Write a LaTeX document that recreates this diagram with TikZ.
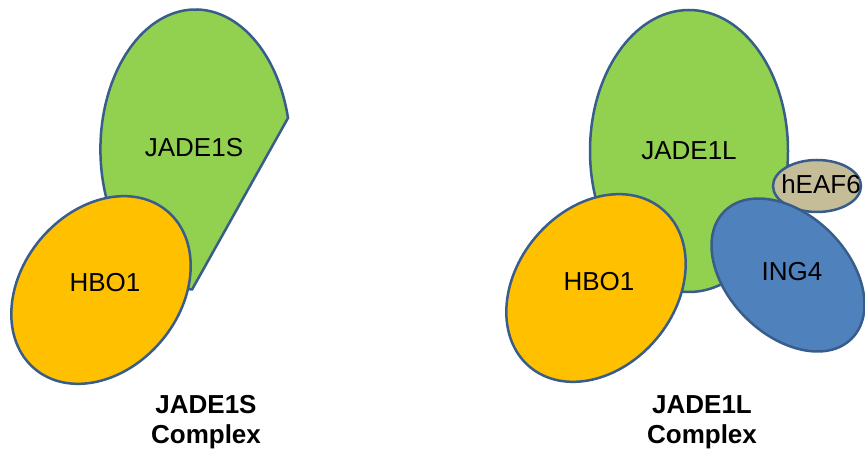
\documentclass[tikz,border=0pt]{standalone}
\usepackage{fontspec}
\setmainfont{Liberation Sans}
\usepackage{tikz}
\definecolor{jadegreen}{RGB}{146,208,80}
\definecolor{hboorange}{RGB}{255,192,0}
\definecolor{ingblue}{RGB}{79,129,189}
\definecolor{eaftan}{RGB}{196,189,151}
\definecolor{rim}{RGB}{56,93,138}
\tikzset{blob/.style={draw=rim, line width=2.5pt},
  lbl/.style={inner sep=0pt, font=\fontsize{26}{30}\selectfont},
  capt/.style={inner sep=0pt, align=center, font=\fontsize{26}{30}\selectfont\bfseries}}

\begin{document}
\begin{tikzpicture}[x=1pt, y=1pt]
\useasboundingbox (0,0) rectangle (865,455);
% JADE1S complex
\draw[blob, fill=jadegreen] (288,337) arc[start angle=13, end angle=268, x radius=95, y radius=140] -- cycle;
\draw[blob, fill=hboorange, rotate around={50:(101,165)}] (101,165) ellipse[x radius=103, y radius=79];
\node[lbl] (jades) at (194,307) {JADE1S};
\node[lbl] (hbos) at (105,172) {HBO1};
\node[capt] (capts) at (206,33) {JADE1S\\Complex};
% JADE1L complex
\draw[blob, fill=jadegreen] (689,304) ellipse[x radius=99, y radius=141];
\draw[blob, fill=eaftan] (817,269) ellipse[x radius=44, y radius=26];
\draw[blob, fill=ingblue, rotate around={-45:(788,180)}] (788,180) ellipse[x radius=90, y radius=60];
\draw[blob, fill=hboorange, rotate around={50:(596,167)}] (596,167) ellipse[x radius=103, y radius=79];
\node[lbl] (jadel) at (689,304) {JADE1L};
\node[lbl] (heaf) at (821,271) {hEAF6};
\node[lbl] (ing) at (792,183) {ING4};
\node[lbl] (hbol) at (599,173) {HBO1};
\node[capt] (captl) at (702,33) {JADE1L\\Complex};
\end{tikzpicture}
\end{document}
